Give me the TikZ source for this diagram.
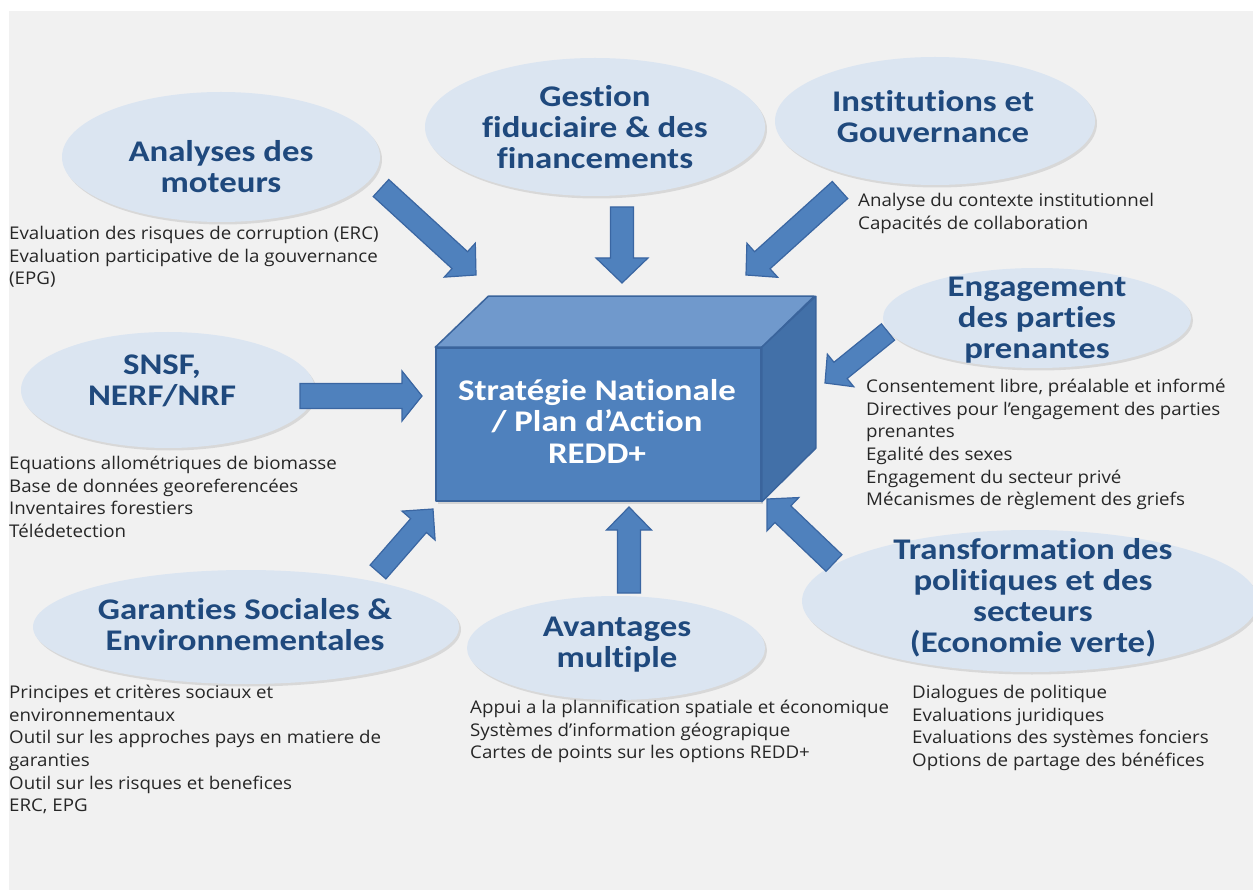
\documentclass[tikz,border=0pt]{standalone}
\usepackage{fontspec}
\setmainfont{Open Sans}[FakeStretch=1.07]
\newfontfamily\titlefont{Carlito}[FakeStretch=1.16,Ligatures=NoCommon,RawFeature={-calt;-clig;-dlig}]
\usetikzlibrary{calc,shapes.geometric,shadows}
\definecolor{bggray}{HTML}{F1F1F1}
\definecolor{ellfill}{HTML}{DBE5F1}
\definecolor{titleblue}{HTML}{1F497D}
\definecolor{arrfill}{HTML}{4F81BD}
\definecolor{arrdraw}{HTML}{3A66A2}
\definecolor{boxfront}{HTML}{4F81BD}
\definecolor{boxtop}{HTML}{7099CC}
\definecolor{boxright}{HTML}{4270A8}
\definecolor{boxedge}{HTML}{3A649C}
\definecolor{bodytext}{HTML}{262626}
% #1 tail coordinate, #2 tip coordinate, #3 shaft half width, #4 head half width, #5 head length
\newcommand{\blockarrow}[5]{%
  \coordinate (bah) at ($(#2)!#5!(#1)$);
  \draw[barrow] ($(#1)!#3!90:(#2)$) -- ($(bah)!#3!90:(#2)$) -- ($(bah)!#4!90:(#2)$)
    -- (#2) -- ($(bah)!#4!-90:(#2)$) -- ($(bah)!#3!-90:(#2)$) -- ($(#1)!#3!-90:(#2)$) -- cycle;
}
\begin{document}
\begin{tikzpicture}[x=1pt,y=-1pt,
  ell/.style={ellipse, fill=ellfill, inner sep=0pt,
    drop shadow={shadow xshift=2pt, shadow yshift=-2.5pt, opacity=0.22}},
  title/.style={font=\titlefont\bfseries\fontsize{30}{31}\selectfont, text=titleblue, align=center, inner sep=0pt},
  boxtitle/.style={font=\titlefont\bfseries\fontsize{30}{31.5}\selectfont, text=white, align=center, inner sep=0pt},
  body/.style={font=\fontsize{17.5}{22.6}\selectfont, text=bodytext, align=left, anchor=north west, inner sep=0pt},
  barrow/.style={fill=arrfill, draw=arrdraw, line width=1.2pt, line join=miter},
  face/.style={draw=boxedge, line width=1.5pt, line join=round}]
\useasboundingbox (0,0) rectangle (1253,890);
\fill[white] (0,0) rectangle (1253,890);
\fill[bggray] (9,11) rectangle (1253,890);

% ellipses
\node[ell, minimum width=318, minimum height=130] (anaE) at (221,157) {};
\node[ell, minimum width=340, minimum height=138] (gesE) at (595,127) {};
\node[ell, minimum width=320, minimum height=128] (insE) at (935,121) {};
\node[ell, minimum width=308, minimum height=100] (engE) at (1037,318) {};
\node[ell, minimum width=294, minimum height=116] (snsE) at (168,390) {};
\node[ell, minimum width=426, minimum height=114] (garE) at (246,627) {};
\node[ell, minimum width=298, minimum height=104] (avaE) at (616,648) {};
\node[ell, minimum width=456, minimum height=142] (traE) at (1030,601) {};

% central box
\node[face, fill=boxfront, minimum width=325, minimum height=153, inner sep=0pt,
  drop shadow={shadow xshift=2pt, shadow yshift=-3pt, opacity=0.25}] (box) at (598.5,424.5) {};
\draw[face, fill=boxtop] (box.north west) -- ++(53,-51) -- ++(326,0) -- (box.north east) -- cycle;
\draw[face, fill=boxright] (box.north east) -- ++(54,-51) -- ++(0,152) -- (box.south east) -- cycle;
\node[boxtitle] (boxT) at (597,421) {Stratégie Nationale\\/ Plan d’Action\\REDD+};

% arrows
\coordinate (a1t) at (381,188);   \coordinate (a1h) at (476,275);
\coordinate (a2t) at (622,207);   \coordinate (a2h) at (622,283);
\coordinate (a3t) at (840,190);   \coordinate (a3h) at (746,275);
\coordinate (a4t) at (300,396);   \coordinate (a4h) at (422,396);
\coordinate (a5t) at (888,332);   \coordinate (a5h) at (825,383);
\coordinate (a6t) at (378,572);   \coordinate (a6h) at (433,509);
\coordinate (a7t) at (629,593);   \coordinate (a7h) at (629,507);
\coordinate (a8t) at (834,563);   \coordinate (a8h) at (767,499);
\blockarrow{a1t}{a1h}{11.5pt}{23pt}{22pt}
\blockarrow{a2t}{a2h}{11.5pt}{26pt}{25pt}
\blockarrow{a3t}{a3h}{11.5pt}{23pt}{22pt}
\blockarrow{a4t}{a4h}{12.5pt}{25pt}{20pt}
\blockarrow{a5t}{a5h}{10.5pt}{21pt}{20pt}
\blockarrow{a6t}{a6h}{10.5pt}{22pt}{22pt}
\blockarrow{a7t}{a7h}{11.5pt}{22.5pt}{23pt}
\blockarrow{a8t}{a8h}{11.5pt}{23pt}{22pt}

% titles
\node[title] (anaT) at (221,167) {Analyses des\\moteurs};
\node[title] (gesT) at (595,127) {Gestion\\fiduciaire \& des\\financements};
\node[title] (insT) at (933,117) {Institutions et\\Gouvernance};
\node[title] (engT) at (1037,320) {Engagement\\des parties\\prenantes};
\node[title] (snsT) at (162,381) {SNSF,\\NERF/NRF};
\node[title] (garT) at (245,625) {Garanties Sociales \&\\Environnementales};
\node[title] (avaT) at (617,645) {Avantages\\multiple};
\node[title] (traT) at (1033,598) {Transformation des\\politiques et des\\secteurs\\(Economie verte)};

% body texts
\node[body] (anaB) at (9,226) {Evaluation des risques de corruption (ERC)\\Evaluation participative de la gouvernance\\(EPG)};
\node[body] (insB) at (858,193) {Analyse du contexte institutionnel\\Capacités de collaboration};
\node[body] (engB) at (866,379) {Consentement libre, préalable et informé\\Directives pour l’engagement des parties\\prenantes\\Egalité des sexes\\Engagement du secteur privé\\Mécanismes de règlement des griefs};
\node[body] (snsB) at (9,456) {Equations allométriques de biomasse\\Base de données georeferencées\\Inventaires forestiers\\Télédetection};
\node[body] (garB) at (9,685) {Principes et critères sociaux et\\environnementaux\\Outil sur les approches pays en matiere de\\garanties\\Outil sur les risques et benefices\\ERC, EPG};
\node[body] (avaB) at (470,700) {Appui a la plannification spatiale et économique\\Systèmes d’information géograpique\\Cartes de points sur les options REDD+};
\node[body] (traB) at (912,685) {Dialogues de politique\\Evaluations juridiques\\Evaluations des systèmes fonciers\\Options de partage des bénéfices};
\end{tikzpicture}
\end{document}
